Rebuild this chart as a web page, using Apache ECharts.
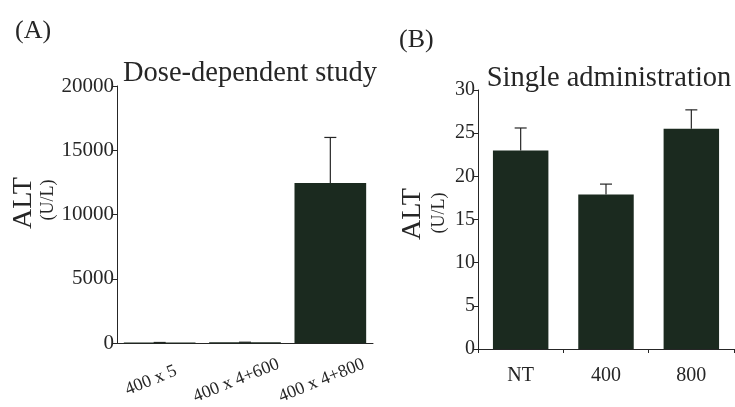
<!DOCTYPE html>
<html>
<head>
<meta charset="utf-8">
<script src="https://cdn.jsdelivr.net/npm/echarts@6/dist/echarts.min.js"></script>
<style>
html,body{margin:0;padding:0;background:#fff;}
#chart{width:735px;height:407px;}
</style>
</head>
<body>
<div id="chart"></div>
<script>
// Panel A: dose-dependent study
const categoriesA = ['400 x 5', '400 x 4+600', '400 x 4+800'];
const meanA = [60, 80, 12450];
const upperA = [60, 80, 16000];
const ticksA = { min: 0, max: 20000, interval: 5000 };

// Panel B: single administration
const categoriesB = ['NT', '400', '800'];
const meanB = [23.0, 17.9, 25.5];
const upperB = [25.6, 19.1, 27.7];
const ticksB = { min: 0, max: 30, interval: 5 };

const FONT = '"Liberation Serif", "DejaVu Serif", serif';
const INK = '#262626';
const BAR = '#1b2a1f';

const chart = echarts.init(document.getElementById('chart'), null, { renderer: 'canvas' });

function errData(means, uppers) {
  return means.map((m, i) => [i, m, uppers[i]]);
}

function renderErr(params, api) {
  const i = api.value(0);
  const p0 = api.coord([i, api.value(1)]);
  const p1 = api.coord([i, api.value(2)]);
  const cap = 6;
  return {
    type: 'group',
    children: [
      { type: 'line', shape: { x1: p0[0], y1: p0[1], x2: p1[0], y2: p1[1] }, style: { stroke: INK, lineWidth: 1.2 } },
      { type: 'line', shape: { x1: p1[0] - cap, y1: p1[1], x2: p1[0] + cap, y2: p1[1] }, style: { stroke: INK, lineWidth: 1.2 } }
    ]
  };
}

const axisLineStyle = { lineStyle: { color: INK, width: 1 } };
const plain = v => String(v);

chart.setOption({
  animation: false,
  backgroundColor: '#ffffff',
  textStyle: { fontFamily: FONT, color: INK },
  title: [
    { text: 'Dose-dependent study', left: 245, top: 54, textAlign: 'center',
      textStyle: { fontFamily: FONT, fontSize: 28.5, fontWeight: 'normal', color: INK } },
    { text: 'Single administration', left: 604, top: 59, textAlign: 'center',
      textStyle: { fontFamily: FONT, fontSize: 28.5, fontWeight: 'normal', color: INK } },
    { text: '(A)', left: 10, top: 13,
      textStyle: { fontFamily: FONT, fontSize: 26, fontWeight: 'normal', color: INK } },
    { text: '(B)', left: 394, top: 22,
      textStyle: { fontFamily: FONT, fontSize: 26, fontWeight: 'normal', color: INK } }
  ],
  graphic: [
    { type: 'text', x: 24, y: 203, rotation: Math.PI / 2,
      style: { text: 'ALT', font: '28px ' + FONT, fill: INK, textAlign: 'center', textVerticalAlign: 'middle' } },
    { type: 'text', x: 48, y: 200, rotation: Math.PI / 2,
      style: { text: '(U/L)', font: '18px ' + FONT, fill: INK, textAlign: 'center', textVerticalAlign: 'middle' } },
    { type: 'text', x: 413, y: 214, rotation: Math.PI / 2,
      style: { text: 'ALT', font: '28px ' + FONT, fill: INK, textAlign: 'center', textVerticalAlign: 'middle' } },
    { type: 'text', x: 439, y: 213, rotation: Math.PI / 2,
      style: { text: '(U/L)', font: '18px ' + FONT, fill: INK, textAlign: 'center', textVerticalAlign: 'middle' } }
  ],
  grid: [
    { left: 117, top: 86, width: 256, height: 259, containLabel: false },
    { left: 478, top: 90, width: 256, height: 259, containLabel: false }
  ],
  xAxis: [
    { type: 'category', gridIndex: 0, data: categoriesA,
      axisLine: axisLineStyle, axisTick: { show: false },
      axisLabel: { rotate: 22, align: 'center', verticalAlign: 'top', margin: 24, padding: [0, 26, 0, 0],
        fontFamily: FONT, fontSize: 18, color: INK } },
    { type: 'category', gridIndex: 1, data: categoriesB,
      axisLine: axisLineStyle, axisTick: { show: true, length: 4, lineStyle: { color: INK } },
      axisLabel: { margin: 17, fontFamily: FONT, fontSize: 20, color: INK } }
  ],
  yAxis: [
    { type: 'value', gridIndex: 0, min: ticksA.min, max: ticksA.max, interval: ticksA.interval,
      axisLine: { show: true, lineStyle: { color: INK, width: 1 } },
      axisTick: { show: true, length: 5, lineStyle: { color: INK } },
      splitLine: { show: false },
      axisLabel: { margin: 3, formatter: plain, fontFamily: FONT, fontSize: 21, color: INK } },
    { type: 'value', gridIndex: 1, min: ticksB.min, max: ticksB.max, interval: ticksB.interval,
      axisLine: { show: true, lineStyle: { color: INK, width: 1 } },
      axisTick: { show: true, length: 5, lineStyle: { color: INK } },
      splitLine: { show: false },
      axisLabel: { margin: 3, formatter: plain, fontFamily: FONT, fontSize: 20, color: INK } }
  ],
  series: [
    { type: 'bar', xAxisIndex: 0, yAxisIndex: 0, data: meanA, barWidth: '84%',
      itemStyle: { color: BAR }, z: 2 },
    { type: 'custom', xAxisIndex: 0, yAxisIndex: 0, data: errData(meanA, upperA),
      encode: { x: 0, y: [1, 2] }, renderItem: renderErr, z: 1 },
    { type: 'bar', xAxisIndex: 1, yAxisIndex: 1, data: meanB, barWidth: '65%',
      itemStyle: { color: BAR }, z: 2 },
    { type: 'custom', xAxisIndex: 1, yAxisIndex: 1, data: errData(meanB, upperB),
      encode: { x: 0, y: [1, 2] }, renderItem: renderErr, z: 1 }
  ]
});
</script>
</body>
</html>
